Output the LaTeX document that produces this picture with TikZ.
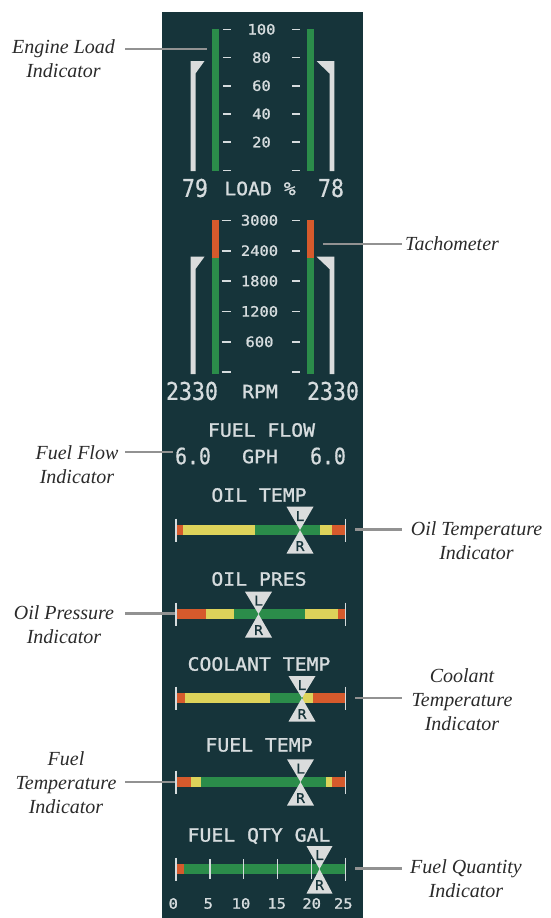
\documentclass[tikz,border=0pt]{standalone}
\usepackage{fontspec}
\setmainfont{Liberation Serif}
\newfontfamily\gfont[FakeStretch=1.08,FakeBold=1.2]{DejaVu Sans Mono}
\newfontfamily\gnarrow[FakeStretch=0.88,FakeBold=0.6]{DejaVu Sans Mono}
\definecolor{panel}{HTML}{16343A}
\definecolor{ggreen}{HTML}{2B8C4A}
\definecolor{gred}{HTML}{D65A2C}
\definecolor{gyellow}{HTML}{DDD35A}
\definecolor{gtext}{HTML}{D6DCDE}
\definecolor{gptr}{HTML}{DADCDC}
\definecolor{conn}{HTML}{929292}
\definecolor{lbl}{HTML}{2A2A2A}
\tikzset{
  callout/.style={font=\fontsize{20}{24}\selectfont\itshape, text=lbl, align=center, inner sep=0pt},
  connline/.style={draw=conn, line width=2.2pt},
  scalelbl/.style={font=\gfont\fontsize{14.3}{15}\selectfont, text=gtext, inner sep=0pt},
  title/.style={font=\gfont\fontsize{18.3}{19}\selectfont, text=gtext, inner sep=0pt},
  bignum/.style={font=\gnarrow\fontsize{24.5}{25}\selectfont, text=gtext, inner sep=0pt},
  midnum/.style={font=\gnarrow\fontsize{22.5}{23}\selectfont, text=gtext, inner sep=0pt},
  tickline/.style={draw=gtext, line width=1.6pt},
  capline/.style={draw=gtext, line width=1.6pt},
  ptrshape/.style={fill=gptr},
  lrletter/.style={font=\gfont\fontsize{13.5}{14}\selectfont, text=panel, inner sep=0pt},
}
\begin{document}
\begin{tikzpicture}[x=1pt,y=-1pt]
\useasboundingbox (0,0) rectangle (550,918);
\fill[panel] (162,12) rectangle (363,918);

% ---------------- Engine load ----------------
\fill[ggreen] (212,29) rectangle (219.3,171);
\fill[ggreen] (307,29) rectangle (314.3,171);
\foreach \y in {29.3,57.5,85.7,113.9,142.1,170.3} {
  \draw[tickline] (223,\y) -- (231,\y);
  \draw[tickline] (292,\y) -- (300,\y);
}
\node[scalelbl] (l100) at (261.5,29.3) {100};
\node[scalelbl] (l80) at (261.5,57.5) {80};
\node[scalelbl] (l60) at (261.5,85.7) {60};
\node[scalelbl] (l40) at (261.5,113.9) {40};
\node[scalelbl] (l20) at (261.5,142.1) {20};
\fill[ptrshape] (190.7,171) -- (190.7,61) -- (204.5,61) -- (195.5,73.5) -- (195.5,171) -- cycle;
\fill[ptrshape] (334.3,171) -- (334.3,61) -- (316.5,61) -- (329.5,73.5) -- (329.5,171) -- cycle;
\node[bignum] (loadL) at (195,188) {79};
\node[title] (loadT) at (260,188.5) {LOAD \%};
\node[bignum] (loadR) at (331,188) {78};

% ---------------- Tachometer ----------------
\fill[gred] (212,220) rectangle (219.3,258);
\fill[ggreen] (212,258) rectangle (219.3,374);
\fill[gred] (307,220) rectangle (314.3,258);
\fill[ggreen] (307,258) rectangle (314.3,374);
\foreach \y in {220.3,250.7,281,311.4,341.8,372.2} {
  \draw[tickline] (221.7,\y) -- (230.7,\y);
  \draw[tickline] (292,\y) -- (300,\y);
}
\node[scalelbl] (r3000) at (259.5,220.3) {3000};
\node[scalelbl] (r2400) at (259.5,250.7) {2400};
\node[scalelbl] (r1800) at (259.5,281) {1800};
\node[scalelbl] (r1200) at (259.5,311.4) {1200};
\node[scalelbl] (r600) at (259.5,341.8) {600};
\fill[ptrshape] (190.7,374) -- (190.7,256.7) -- (204.5,256.7) -- (195.5,269) -- (195.5,374) -- cycle;
\fill[ptrshape] (334.3,374) -- (334.3,256.7) -- (316.5,256.7) -- (329.5,269) -- (329.5,374) -- cycle;
\node[bignum] (rpmL) at (192,391) {2330};
\node[title] (rpmT) at (260,391.5) {RPM};
\node[bignum] (rpmR) at (333,391) {2330};

% ---------------- Fuel flow ----------------
\node[title] (ffT) at (261.5,430) {FUEL FLOW};
\node[midnum] (ffL) at (193,456) {6.0};
\node[title] (ffU) at (260,456.5) {GPH};
\node[midnum] (ffR) at (328,456) {6.0};

% ---------------- Oil temp ----------------
\node[title] (otT) at (259,495) {OIL TEMP};
\fill[gred] (177,525) rectangle (183.3,535);
\fill[gyellow] (183.3,525) rectangle (255,535);
\fill[ggreen] (255,525) rectangle (320,535);
\fill[gyellow] (320,525) rectangle (331.7,535);
\fill[gred] (331.7,525) rectangle (345,535);
\draw[capline] (176.2,518.5) -- (176.2,541.5);
\draw[capline] (345.6,518.5) -- (345.6,541.5);
\fill[ptrshape] (286.5,506.7) -- (313.5,506.7) -- (300,530) -- cycle;
\fill[ptrshape] (286.5,553.5) -- (313.5,553.5) -- (300,530) -- cycle;
\node[lrletter] (otL) at (300,516) {L};
\node[lrletter] (otR) at (300,546) {R};

% ---------------- Oil pres ----------------
\node[title] (opT) at (259,579) {OIL PRES};
\fill[gred] (177,609) rectangle (206,619);
\fill[gyellow] (206,609) rectangle (234,619);
\fill[ggreen] (234,609) rectangle (305,619);
\fill[gyellow] (305,609) rectangle (337.7,619);
\fill[gred] (337.7,609) rectangle (345,619);
\draw[capline] (176.2,602.5) -- (176.2,625.5);
\draw[capline] (345.6,602.5) -- (345.6,625.5);
\fill[ptrshape] (245,591.7) -- (272,591.7) -- (258.5,614) -- cycle;
\fill[ptrshape] (245,637.5) -- (272,637.5) -- (258.5,614) -- cycle;
\node[lrletter] (opL) at (258.5,600.5) {L};
\node[lrletter] (opR) at (258.5,630) {R};

% ---------------- Coolant temp ----------------
\node[title] (ctT) at (259,664) {COOLANT TEMP};
\fill[gred] (177,693) rectangle (185,703);
\fill[gyellow] (185,693) rectangle (270,703);
\fill[ggreen] (270,693) rectangle (303.3,703);
\fill[gyellow] (303.3,693) rectangle (313.3,703);
\fill[gred] (313.3,693) rectangle (345,703);
\draw[capline] (176.2,686.5) -- (176.2,709.5);
\draw[capline] (345.6,686.5) -- (345.6,709.5);
\fill[ptrshape] (288.5,676) -- (315.5,676) -- (302,698) -- cycle;
\fill[ptrshape] (288.5,721.5) -- (315.5,721.5) -- (302,698) -- cycle;
\node[lrletter] (ctL) at (302,685) {L};
\node[lrletter] (ctR) at (302,714) {R};

% ---------------- Fuel temp ----------------
\node[title] (ftT) at (259,745) {FUEL TEMP};
\fill[gred] (177,777) rectangle (190.7,787);
\fill[gyellow] (190.7,777) rectangle (200.7,787);
\fill[ggreen] (200.7,777) rectangle (325.7,787);
\fill[gyellow] (325.7,777) rectangle (332.3,787);
\fill[gred] (332.3,777) rectangle (345,787);
\draw[capline] (176.2,770.5) -- (176.2,793.5);
\draw[capline] (345.6,770.5) -- (345.6,793.5);
\fill[ptrshape] (287,759.3) -- (314,759.3) -- (300.5,782) -- cycle;
\fill[ptrshape] (287,805.5) -- (314,805.5) -- (300.5,782) -- cycle;
\node[lrletter] (ftL) at (300.5,768.5) {L};
\node[lrletter] (ftR) at (300.5,798) {R};

% ---------------- Fuel qty ----------------
\node[title] (fqT) at (259,836) {FUEL QTY GAL};
\fill[gred] (177,864) rectangle (184,874);
\fill[ggreen] (184,864) rectangle (345,874);
\draw[capline] (176.2,857.5) -- (176.2,880.5);
\draw[capline] (345.6,857.5) -- (345.6,880.5);
\foreach \x in {209.9,243.8,277.7,311.6} {
  \draw[tickline, line width=1.2pt] (\x,859) -- (\x,879);
}
\fill[ptrshape] (306.5,846) -- (332.5,846) -- (319.5,869) -- cycle;
\fill[ptrshape] (306.5,893.5) -- (332.5,893.5) -- (319.5,869) -- cycle;
\node[lrletter] (fqL) at (319.5,855) {L};
\node[lrletter] (fqR) at (319.5,885) {R};
\node[scalelbl] (q0) at (173.3,903.5) {0};
\node[scalelbl] (q5) at (208.3,903.5) {5};
\node[scalelbl] (q10) at (241,903.5) {10};
\node[scalelbl] (q15) at (276.7,903.5) {15};
\node[scalelbl] (q20) at (311.7,903.5) {20};
\node[scalelbl] (q25) at (343.3,903.5) {25};

% ---------------- Callouts ----------------
\node[callout] (cEng) at (63.5,59) {Engine Load\\Indicator};
\coordinate (cEngA) at (125,49);
\coordinate (cEngB) at (207,49);
\draw[connline] (cEngA) -- (cEngB);

\node[callout, anchor=west] (cTach) at (405,244) {Tachometer};
\coordinate (cTachA) at (323,244);
\coordinate (cTachB) at (401.7,244);
\draw[connline] (cTachA) -- (cTachB);

\node[callout] (cFF) at (77,464.5) {Fuel Flow\\Indicator};
\coordinate (cFFA) at (125,452);
\coordinate (cFFB) at (173,452);
\draw[connline] (cFFA) -- (cFFB);

\node[callout] (cOT) at (476.5,541) {Oil Temperature\\Indicator};
\coordinate (cOTA) at (401.7,529.5);
\coordinate (cOTB) at (355,529.5);
\draw[connline] (cOTB) -- (cOTA);

\node[callout] (cOP) at (64,625) {Oil Pressure\\Indicator};
\coordinate (cOPA) at (125,613.5);
\coordinate (cOPB) at (175,613.5);
\draw[connline] (cOPA) -- (cOPB);

\node[callout] (cCT) at (462,699.5) {Coolant\\Temperature\\Indicator};
\coordinate (cCTA) at (401.7,698);
\coordinate (cCTB) at (355,698);
\draw[connline] (cCTB) -- (cCTA);

\node[callout] (cFT) at (66,782.5) {Fuel\\Temperature\\Indicator};
\coordinate (cFTA) at (125,782);
\coordinate (cFTB) at (175,782);
\draw[connline] (cFTA) -- (cFTB);

\node[callout] (cFQ) at (466,879) {Fuel Quantity\\Indicator};
\coordinate (cFQA) at (401.7,868.5);
\coordinate (cFQB) at (355,868.5);
\draw[connline] (cFQB) -- (cFQA);
\end{tikzpicture}
\end{document}
